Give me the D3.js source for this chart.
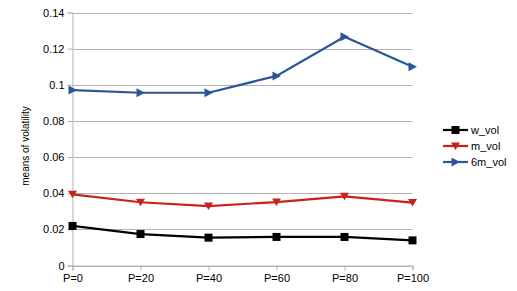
<!DOCTYPE html>
<html><head><meta charset="utf-8">
<script src="https://cdn.jsdelivr.net/npm/d3@7"></script>
<style>body{margin:0;background:#fff}svg{display:block}text{font-family:"Liberation Sans",Arial,sans-serif;fill:#000}</style>
</head><body>
<script>
const categories = ["P=0","P=20","P=40","P=60","P=80","P=100"];
const wVol = [0.0219,0.0174,0.0154,0.0158,0.0158,0.0139];
const mVol = [0.0394,0.0350,0.0329,0.0351,0.0383,0.0348];
const m6Vol = [0.0971,0.0956,0.0956,0.1049,0.1266,0.1100];
const yTicks = [0,0.02,0.04,0.06,0.08,0.1,0.12,0.14];
const seriesNames = ["w_vol","m_vol","6m_vol"];

const W=517,H=291;
const svg=d3.select("body").append("svg").attr("width",W).attr("height",H);
const x=d3.scalePoint().domain(categories).range([72.5,412.5]);
const y=d3.scaleLinear().domain([0,0.14]).range([265.5,12.5]);
const grid="#b3b3b3";

// gridlines
svg.append("g").selectAll("line").data(yTicks).join("line")
  .attr("x1",72.5).attr("x2",412.5).attr("y1",d=>Math.round(y(d))+0.5).attr("y2",d=>Math.round(y(d))+0.5)
  .attr("stroke",grid).attr("stroke-width",1);

const ya=svg.append("g").attr("transform","translate(72.5,0)")
  .call(d3.axisLeft(y).tickValues(yTicks).tickFormat(d=>d3.format("~g")(d)).tickSize(5).tickPadding(3));
ya.select(".domain").attr("stroke",grid);
ya.selectAll(".tick line").attr("stroke",grid);
ya.selectAll("text").attr("font-size",11).attr("font-family","Liberation Sans, Arial, sans-serif");

const xa=svg.append("g").attr("transform","translate(0,265.5)")
  .call(d3.axisBottom(x).tickSize(5).tickPadding(4));
xa.select(".domain").attr("stroke",grid);
xa.selectAll(".tick line").attr("stroke",grid);
xa.selectAll("text").attr("font-size",11).attr("font-family","Liberation Sans, Arial, sans-serif");

svg.append("text").attr("transform","translate(28.5,146) rotate(-90)").attr("text-anchor","middle")
  .attr("font-size",10).text("means of volatility");

const series=[
 {name:seriesNames[0],vals:wVol,color:"#000000",marker:"square"},
 {name:seriesNames[1],vals:mVol,color:"#c9211e",marker:"down"},
 {name:seriesNames[2],vals:m6Vol,color:"#2a5599",marker:"right"}
];
function markerPath(t){
  if(t==="square") return "M-4,-4H4V4H-4Z";
  if(t==="down") return "M-4.5,-3.5H4.5L0,4Z";
  return "M-4,-4.5L4.5,0L-4,4.5Z";
}
const line=d3.line().x((d,i)=>x(categories[i])).y(d=>y(d));
series.forEach(s=>{
  svg.append("path").attr("d",line(s.vals)).attr("fill","none").attr("stroke",s.color).attr("stroke-width",2.2).attr("stroke-linejoin","miter");
  svg.append("g").selectAll("path").data(s.vals).join("path")
    .attr("transform",(d,i)=>`translate(${x(categories[i])},${y(d)})`)
    .attr("d",markerPath(s.marker)).attr("fill",s.color);
});

// legend
const lg=svg.append("g");
series.forEach((s,i)=>{
  const yy=130+i*16;
  lg.append("line").attr("x1",443).attr("x2",468).attr("y1",yy).attr("y2",yy).attr("stroke",s.color).attr("stroke-width",2.2);
  lg.append("path").attr("transform",`translate(455.5,${yy})`).attr("d",markerPath(s.marker)).attr("fill",s.color);
  lg.append("text").attr("x",471).attr("y",yy+4).attr("font-size",11).text(s.name);
});
</script>
</body></html>
